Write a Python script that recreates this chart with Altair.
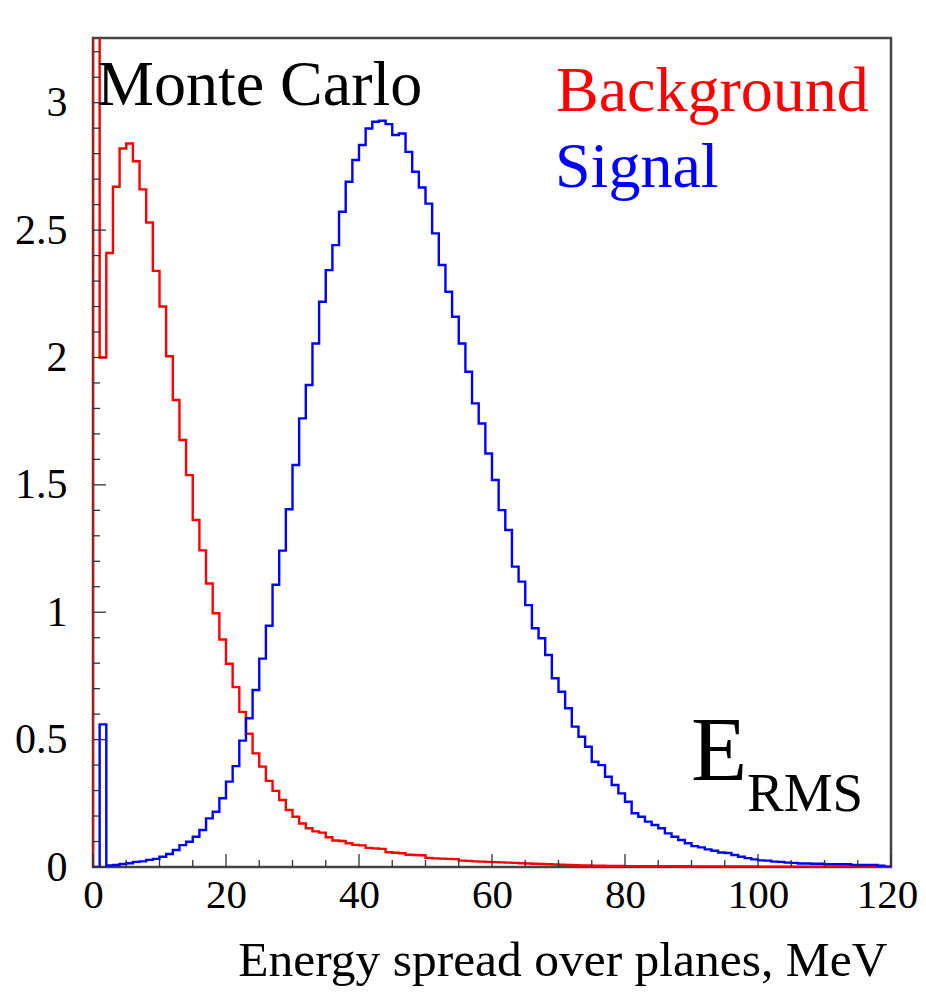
import altair as alt
import pandas as pd

# ---------------- data (1 MeV bins, 0..120 MeV) ----------------
bin_edges = list(range(0, 121))

background = [
    3.6, 2.00, 2.41, 2.67, 2.82, 2.84, 2.77, 2.66, 2.53, 2.34,
    2.20, 2.005, 1.833, 1.676, 1.538, 1.362, 1.243, 1.113, 0.996, 0.893,
    0.798, 0.706, 0.609, 0.523, 0.446, 0.394, 0.338, 0.299, 0.263, 0.224,
    0.197, 0.171, 0.152, 0.140, 0.135, 0.117, 0.104, 0.102, 0.093, 0.087,
    0.085, 0.075, 0.073, 0.071, 0.058, 0.056, 0.054, 0.048, 0.047, 0.046,
    0.036, 0.034, 0.033, 0.032, 0.031, 0.025, 0.024, 0.022, 0.021, 0.020,
    0.019, 0.018, 0.017, 0.016, 0.015, 0.014, 0.013, 0.012, 0.011, 0.010,
    0.009, 0.008, 0.007, 0.006, 0.006, 0.005, 0.005, 0.004, 0.004, 0.004,
    0.003, 0.003, 0.003, 0.003, 0.003, 0.003, 0.003, 0.003, 0.003, 0.003,
    0.002, 0.002, 0.002, 0.002, 0.002, 0.002, 0.002, 0.002, 0.002, 0.002,
    0.001, 0.001, 0.001, 0.001, 0.001, 0.001, 0.001, 0.001, 0.001, 0.001,
    0.001, 0.001, 0.001, 0.001, 0.001, 0.001, 0.001, 0.001, 0.001, 0.001,
]

signal = [
    0.0, 0.56, 0.006, 0.008, 0.012, 0.015, 0.020, 0.022, 0.028, 0.032,
    0.040, 0.051, 0.067, 0.086, 0.099, 0.119, 0.145, 0.191, 0.217, 0.270,
    0.335, 0.396, 0.496, 0.584, 0.695, 0.818, 0.947, 1.108, 1.242, 1.404,
    1.578, 1.761, 1.892, 2.055, 2.219, 2.343, 2.441, 2.572, 2.690, 2.775,
    2.834, 2.899, 2.925, 2.929, 2.916, 2.873, 2.879, 2.807, 2.729, 2.667,
    2.604, 2.487, 2.363, 2.258, 2.160, 2.055, 1.944, 1.820, 1.741, 1.623,
    1.519, 1.401, 1.323, 1.179, 1.120, 1.028, 0.937, 0.898, 0.832, 0.741,
    0.688, 0.623, 0.551, 0.511, 0.472, 0.413, 0.400, 0.354, 0.322, 0.289,
    0.256, 0.211, 0.197, 0.178, 0.165, 0.152, 0.132, 0.119, 0.106, 0.093,
    0.082, 0.077, 0.069, 0.064, 0.057, 0.055, 0.047, 0.040, 0.035, 0.030,
    0.026, 0.025, 0.021, 0.020, 0.017, 0.016, 0.014, 0.014, 0.013, 0.013,
    0.011, 0.011, 0.011, 0.011, 0.008, 0.008, 0.008, 0.008, 0.005, 0.0,
]

x_major = [0, 20, 40, 60, 80, 100, 120]
x_minor = [v for v in range(0, 121, 5) if v not in x_major]
y_major = [0, 0.5, 1, 1.5, 2, 2.5, 3]
y_minor = [round(i * 0.1, 1) for i in range(0, 33) if round(i * 0.1, 1) not in y_major]

x_title = "Energy spread over planes, MeV"
FONT = "Liberation Serif"

# ---------------- geometry ----------------
W, H = 798, 829
YMAX = 3.254


def hist_frame(values):
    rows = [{"x": 0, "y": 0.0, "i": 0}]
    for k, v in enumerate(values):
        rows.append({"x": bin_edges[k], "y": v, "i": k + 1})
    rows.append({"x": bin_edges[-1], "y": values[-1], "i": len(values) + 1})
    return pd.DataFrame(rows)


xscale = alt.Scale(domain=[0, 120], nice=False, zero=False)
yscale = alt.Scale(domain=[0, YMAX], nice=False, zero=False)

xaxis = alt.Axis(
    values=x_major, title=x_title, ticks=False, tickSize=0, domain=False, grid=False,
    labelFont=FONT, labelFontSize=41, labelColor="black", labelBaseline="alphabetic",
    labelPadding=40, labelFlush=False, labelAlign="center",
    labelOffset={"condition": {"test": "datum.value == 120", "value": -4}, "value": 0},
    titleFont=FONT, titleFontSize=49.5, titleFontWeight="normal", titleColor="black",
    titleAnchor="end", titleAlign="right", titleBaseline="alphabetic",
    titleX=794, titleY=108,
)
yaxis = alt.Axis(
    values=y_major, title=None, ticks=False, tickSize=0, domain=False, grid=False,
    format="~g", labelFont=FONT, labelFontSize=42, labelColor="black",
    labelAlign="right", labelBaseline="middle", labelPadding=26, labelFlush=False,
)


def hist_line(values, color):
    return alt.Chart(hist_frame(values)).mark_line(
        interpolate="step-after", color=color, strokeWidth=2.4, clip=True
    ).encode(
        x=alt.X("x:Q", scale=xscale, axis=xaxis),
        y=alt.Y("y:Q", scale=yscale, axis=yaxis),
        order="i:Q",
    )


bg_line = hist_line(background, "#ff0000")
sig_line = hist_line(signal, "#0000ff")


# inward ROOT-style ticks
def xticks(vals, length):
    return alt.Chart(pd.DataFrame({"x": vals})).mark_rule(color="#333", strokeWidth=1.3).encode(
        x=alt.X("x:Q", scale=xscale, axis=xaxis),
        y=alt.value(H), y2=alt.value(H - length),
    )


def yticks(vals, length):
    return alt.Chart(pd.DataFrame({"y": vals})).mark_rule(color="#333", strokeWidth=1.3).encode(
        y=alt.Y("y:Q", scale=yscale, axis=yaxis),
        x=alt.value(0), x2=alt.value(length),
    )


def label(text, x, y, size, color):
    return alt.Chart(pd.DataFrame({"t": [text]})).mark_text(
        font=FONT, fontSize=size, color=color, align="left", baseline="alphabetic"
    ).encode(text="t:N", x=alt.value(x), y=alt.value(y))


chart = alt.layer(
    bg_line,
    sig_line,
    xticks(x_major, 13), xticks(x_minor, 7),
    yticks(y_major, 13), yticks(y_minor, 7),
    label("Monte Carlo", 4, 67, 64, "black"),
    label("Background", 463, 73, 64, "#ff0000"),
    label("Signal", 462, 149, 64, "#0000ff"),
    label("E", 598, 742, 92, "black"),
    label("RMS", 654, 773, 55, "black"),
).properties(
    width=W, height=H,
    padding={"left": 85, "top": 30, "right": 27, "bottom": 132},
    autosize=alt.AutoSizeParams(type="none"),
    background="white",
).configure_view(
    stroke="#444", strokeWidth=2.5
)

chart.save("out.html", embed_options={"renderer": "svg", "actions": False})
